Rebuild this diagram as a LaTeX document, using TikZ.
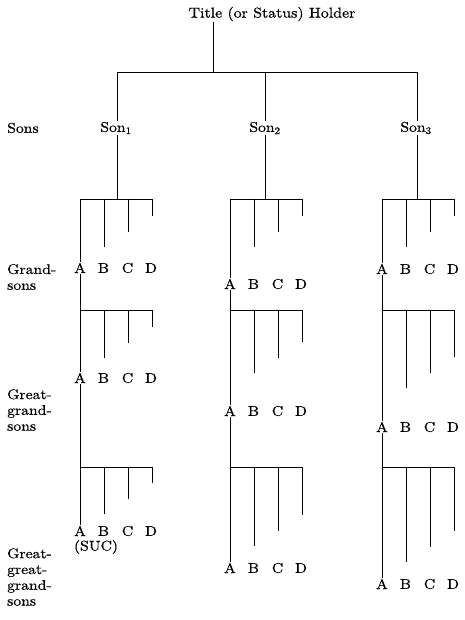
\documentclass[tikz,border=0pt]{standalone}
\usepackage{fontspec}
\setmainfont{lmroman10-regular}[Extension=.otf, FakeStretch=1.12, FakeBold=0.6]
\begin{document}
\begin{tikzpicture}[x=1pt,y=-1pt,
  tree/.style={line width=0.9pt, black},
  lab/.style={inner sep=1pt, font=\fontsize{14}{15}\selectfont},
  side/.style={anchor=west, align=left, inner sep=0pt, font=\fontsize{14}{15.8}\selectfont}]
\useasboundingbox (0,0) rectangle (465,620);
% title
\node[lab, font=\fontsize{14.2}{16}\selectfont] (title) at (272,14) {Title (or Status) Holder};
\coordinate (tj) at (213,72);
\coordinate (tL) at (117,72);
\coordinate (tM) at (265,72);
\coordinate (tR) at (417,72);
\draw[tree] (title.south -| tj) -- (tj);
\draw[tree] (tL) -- (tR);
% sons
\node[lab] (s1) at (116,128) {Son\textsubscript{1}};
\node[lab] (s2) at (265,128) {Son\textsubscript{2}};
\node[lab] (s3) at (416,128) {Son\textsubscript{3}};
\draw[tree] (tL) -- (s1.north -| tL);
\draw[tree] (tM) -- (s2.north -| tM);
\draw[tree] (tR) -- (s3.north -| tR);
\coordinate (j1) at (117,199);
\coordinate (j2) at (265,199);
\coordinate (j3) at (417,199);
\draw[tree] (s1.south -| j1) -- (j1);
\draw[tree] (s2.south -| j2) -- (j2);
\draw[tree] (s3.south -| j3) -- (j3);
% side labels
\node[side] (lsons) at (7,128) {Sons};
\node[side] (lgs) at (7,277) {Grand-\\sons};
\node[side] (lggs) at (7,410) {Great-\\grand-\\sons};
\node[side] (lgggs) at (7,577) {Great-\\great-\\grand-\\sons};
% rows of grandchildren
\foreach \i/\r/\xa/\yb/\yl/\d in {
  1/1/80/199/268/48, 1/2/80/310/378/48, 1/3/80/467/531/47,
  2/1/230/199/284/48, 2/2/230/310/411/63, 2/3/230/467/568/79,
  3/1/382/199/269/48, 3/2/382/310/427/78, 3/3/382/467/584/95}{
  \coordinate (L\i\r) at (\xa,\yb);
  \coordinate (R\i\r) at ({\xa+72},\yb);
  \draw[tree] (L\i\r) -- (R\i\r);
  \node[lab] (A\i\r) at (\xa,\yl) {A};
  \node[lab] (B\i\r) at ({\xa+23.5},\yl) {B};
  \node[lab] (C\i\r) at ({\xa+47.5},\yl) {C};
  \node[lab] (D\i\r) at ({\xa+71},\yl) {D};
  \coordinate (eB\i\r) at ({\xa+24},{\yb+\d});
  \coordinate (eC\i\r) at ({\xa+48},{\yb+\d-15.5});
  \coordinate (eD\i\r) at ({\xa+72},{\yb+\d-31});
  \draw[tree] (eB\i\r |- L\i\r) -- (eB\i\r);
  \draw[tree] (eC\i\r |- L\i\r) -- (eC\i\r);
  \draw[tree] (eD\i\r |- L\i\r) -- (eD\i\r);
}
% A lines
\foreach \i in {1,2,3}{
  \draw[tree] (L\i1) -- (A\i1.north);
  \draw[tree] (A\i1.south) -- (A\i2.north);
  \draw[tree] (A\i2.south) -- (A\i3.north);
}
\node[lab] (suc) at (96,547) {(SUC)};
\end{tikzpicture}
\end{document}
